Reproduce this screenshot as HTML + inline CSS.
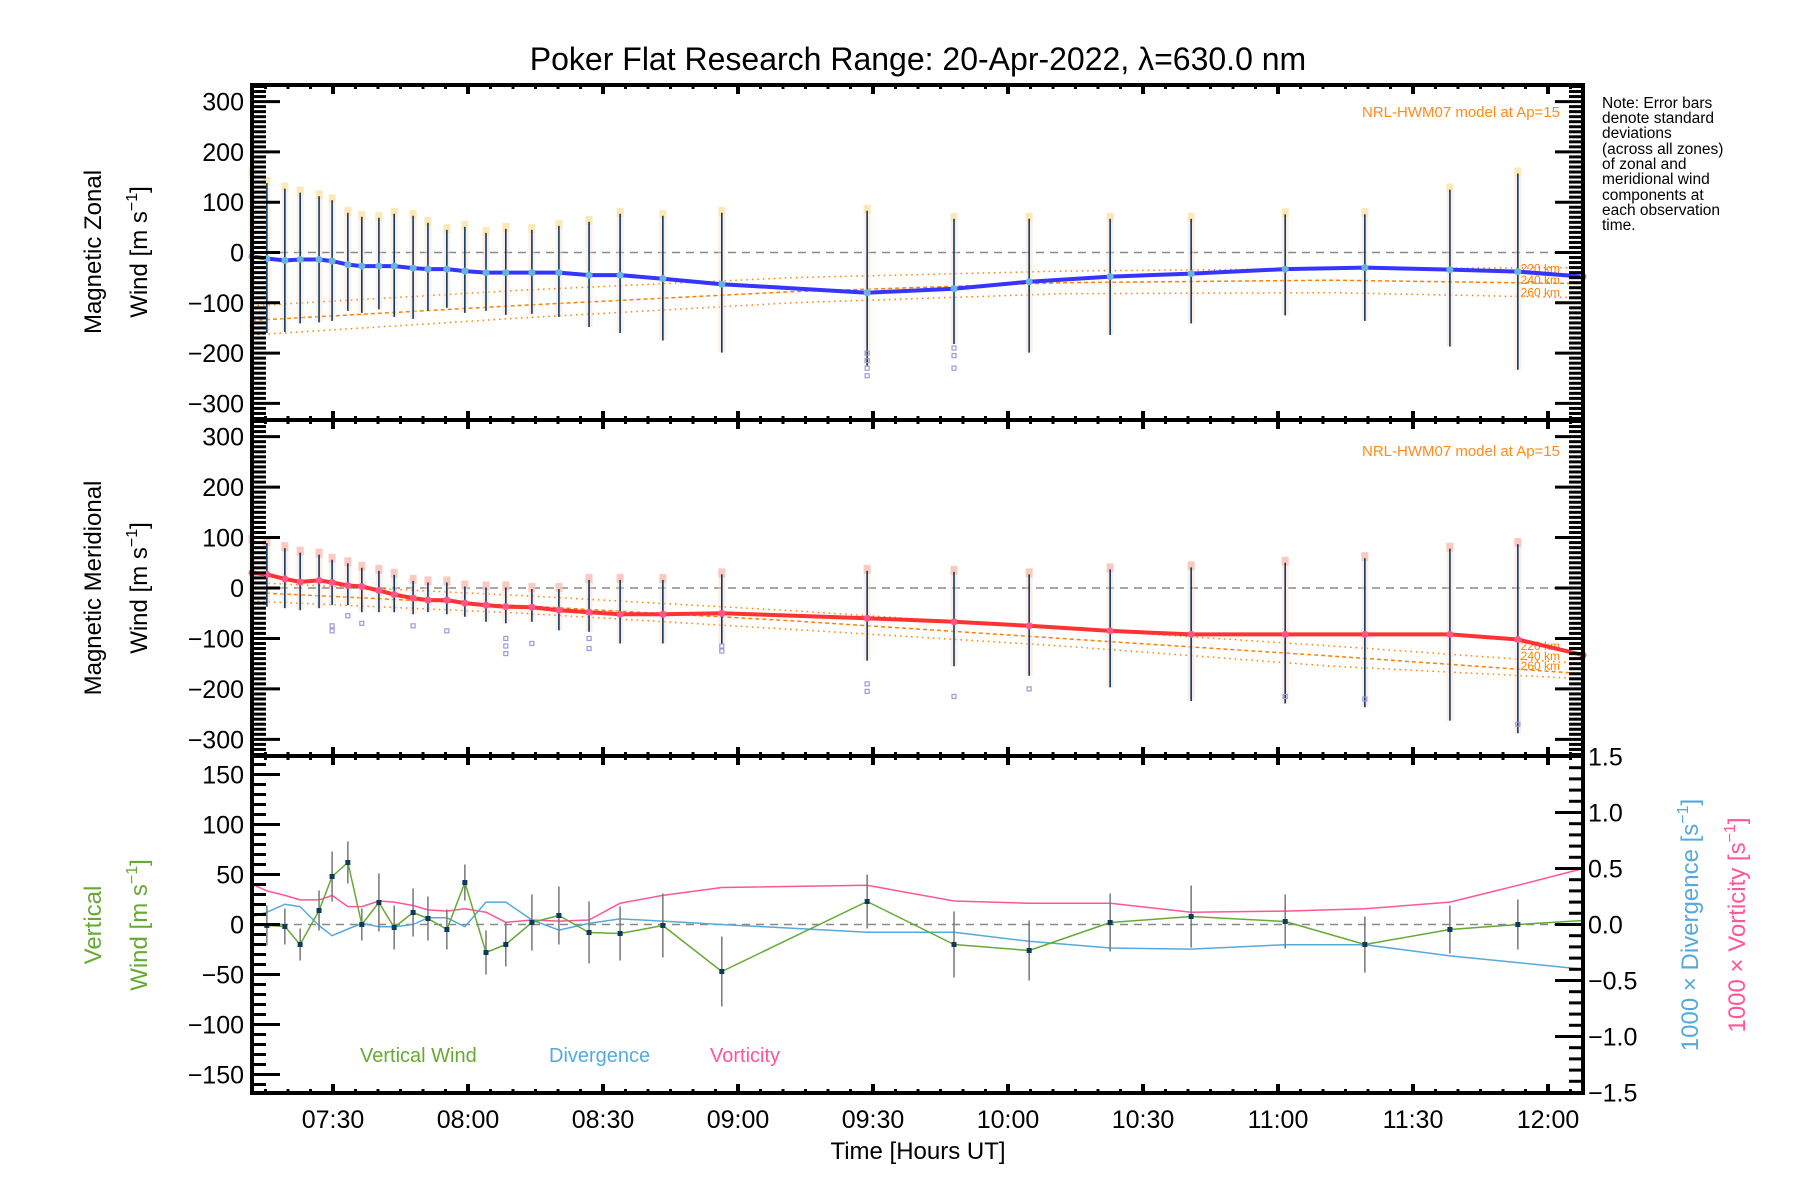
<!DOCTYPE html>
<html><head><meta charset="utf-8"><style>
html,body{margin:0;padding:0;background:#fff;}
svg{display:block;font-family:"Liberation Sans",sans-serif;}
</style></head><body>
<svg id="chart" width="1800" height="1200" viewBox="0 0 1800 1200" xmlns="http://www.w3.org/2000/svg">
<text x="918" y="70" font-size="32" text-anchor="middle">Poker Flat Research Range: 20-Apr-2022, λ=630.0 nm</text>
<g font-size="15.5" fill="#000">
<text x="1602" y="108">Note: Error bars</text><text x="1602" y="123">denote standard</text><text x="1602" y="138">deviations</text><text x="1602" y="154">(across all zones)</text><text x="1602" y="169">of zonal and</text><text x="1602" y="184">meridional wind</text><text x="1602" y="200">components at</text><text x="1602" y="215">each observation</text><text x="1602" y="230">time.</text>
</g>
<text x="1560" y="117" font-size="15" fill="#ff8c1a" text-anchor="end">NRL-HWM07 model at Ap=15</text>
<text x="1560" y="456" font-size="15" fill="#ff8c1a" text-anchor="end">NRL-HWM07 model at Ap=15</text>
<g font-size="24">
<text transform="translate(101,252) rotate(-90)" text-anchor="middle">Magnetic Zonal</text>
<text transform="translate(147,252) rotate(-90)" text-anchor="middle">Wind [m s<tspan dy="-10" font-size="16">−1</tspan><tspan dy="10">]</tspan></text>
<text transform="translate(101,588) rotate(-90)" text-anchor="middle">Magnetic Meridional</text>
<text transform="translate(147,588) rotate(-90)" text-anchor="middle">Wind [m s<tspan dy="-10" font-size="16">−1</tspan><tspan dy="10">]</tspan></text>
<text transform="translate(101,925) rotate(-90)" text-anchor="middle" fill="#66aa33">Vertical</text>
<text transform="translate(147,925) rotate(-90)" text-anchor="middle" fill="#66aa33">Wind [m s<tspan dy="-10" font-size="16">−1</tspan><tspan dy="10">]</tspan></text>
<text transform="translate(1698,925) rotate(-90)" text-anchor="middle" fill="#55aadd">1000 × Divergence [s<tspan dy="-10" font-size="16">−1</tspan><tspan dy="10">]</tspan></text>
<text transform="translate(1745,925) rotate(-90)" text-anchor="middle" fill="#ff5599">1000 × Vorticity [s<tspan dy="-10" font-size="16">−1</tspan><tspan dy="10">]</tspan></text>
<text x="918" y="1159" text-anchor="middle">Time [Hours UT]</text>
</g>
<g font-size="20">
<text x="360" y="1062" fill="#66aa33">Vertical Wind</text>
<text x="549" y="1062" fill="#55aadd">Divergence</text>
<text x="710" y="1062" fill="#ff5599">Vorticity</text>
</g>
<g id="plot"></g>
</svg>
<script>
// minutes after 07:00 UT
const times = [12,15.3,19.3,22.7,26.9,29.8,33.3,36.4,40.2,43.6,47.8,51.1,55.3,59.3,64,68.4,74.2,80.2,86.9,93.8,103.3,116.4,148.7,168,184.7,202.7,220.7,241.6,259.3,278.2,293.3,307.8];
const zonal = [-8,-12,-16,-14,-14,-17,-24,-27,-27,-27,-31,-33,-33,-37,-40,-40,-40,-40,-45,-45,-52,-63,-80,-72,-58,-48,-42,-33,-30,-34,-38,-48];
const zonalTop = [158,138,127,119,112,104,79,71,69,77,73,59,45,51,39,47,45,53,61,77,73,79,83,67,67,67,67,76,76,125,157,0];
const zonalBot = [-164,-160,-158,-141,-139,-136,-116,-120,-113,-128,-132,-116,-110,-120,-116,-124,-122,-128,-148,-160,-175,-199,-225,-182,-199,-164,-141,-125,-136,-187,-233,0];
const merid = [30,27,18,12,15,11,5,3,-5,-13,-20,-24,-24,-30,-34,-37,-38,-44,-48,-52,-52,-50,-60,-67,-75,-85,-92,-92,-92,-92,-102,-133];
const meridTop = [94,89,79,70,66,56,49,40,34,26,14,11,11,3,1,1,-2,-2,16,16,16,27,34,32,27,37,41,50,59,78,87,0];
const meridBot = [-44,-37,-40,-44,-40,-34,-34,-48,-48,-48,-52,-48,-52,-57,-67,-70,-67,-84,-87,-110,-110,-110,-144,-155,-174,-197,-224,-229,-236,-263,-288,0];
const vert = [-1,-1,-2,-20,14,48,62,0,22,-3,12,6,-5,42,-28,-20,2,9,-8,-9,-1,-47,23,-20,-26,2,8,3,-20,-5,0,4];
const vertErr = [0,20,18,16,20,25,21,16,29,22,24,22,20,18,22,22,28,29,31,27,32,35,27,33,30,29,31,27,28,24,25,0];
const diverg = [0.07,0.11,0.18,0.16,-0.01,-0.10,-0.04,0.01,-0.02,-0.02,0.0,0.06,0.06,-0.02,0.20,0.20,0.04,-0.05,0.01,0.05,0.03,0.0,-0.07,-0.07,-0.15,-0.21,-0.22,-0.18,-0.18,-0.28,-0.34,-0.40];
const vortic = [0.36,0.30,0.26,0.22,0.22,0.26,0.16,0.16,0.21,0.20,0.17,0.13,0.12,0.14,0.11,0.02,0.04,0.03,0.04,0.19,0.26,0.33,0.35,0.21,0.19,0.19,0.11,0.12,0.14,0.20,0.35,0.50];
const modelTimes = [12,72,132,192,252,308];
const zModel220 = [-106,-75,-50,-37,-32,-30];
const zModel240 = [-135,-105,-78,-60,-55,-62];
const zModel260 = [-164,-130,-100,-82,-80,-90];
const mModel220 = [11,-15,-45,-80,-115,-150];
const mModel240 = [-9,-35,-65,-100,-135,-170];
const mModel260 = [-26,-50,-82,-115,-155,-180];
const zOutT = [148.7,148.7,148.7,148.7,168,168,168];
const zOutV = [-200,-215,-230,-245,-190,-205,-230];
const mOutT = [29.8,29.8,33.3,36.4,47.8,55.3,68.4,68.4,68.4,74.2,86.9,86.9,116.4,116.4,148.7,148.7,168,184.7,241.6,259.3,293.3];
const mOutV = [-75,-85,-55,-70,-75,-85,-100,-115,-130,-110,-100,-120,-115,-125,-190,-205,-215,-200,-215,-220,-270];
const xTickLabels = ["07:30","08:00","08:30","09:00","09:30","10:00","10:30","11:00","11:30","12:00"];

const NS="http://www.w3.org/2000/svg";
const g=document.getElementById('plot');
const L=252,R=1583;
function X(m){return L+(m-12)*4.5;}
const panels=[{top:85,bot:420,r:333},{top:420,bot:756,r:333},{top:756,bot:1093,r:168.5}];
function Y(p,v){const P=panels[p];const c=(P.top+P.bot)/2;return c-v*(P.bot-P.top)/2/P.r;}
function YRt(v){return 924.5-v*112;}
function el(tag,a,parent){const e=document.createElementNS(NS,tag);for(const k in a)e.setAttribute(k,a[k]);(parent||g).appendChild(e);return e;}
function line(x1,y1,x2,y2,st,w,extra){return el('line',Object.assign({x1,y1,x2,y2,stroke:st,'stroke-width':w},extra||{}));}
function poly(xs,ys,st,w,extra){const pts=xs.map((x,i)=>x.toFixed(1)+','+ys[i].toFixed(1)).join(' ');return el('polyline',Object.assign({points:pts,fill:'none',stroke:st,'stroke-width':w,'stroke-linejoin':'round'},extra||{}));}

// zero lines
[0,1,2].forEach(p=>{const z=line(L,Y(p,0),R,Y(p,0),'#888',1.5,{'stroke-dasharray':'8,6'});

});

// model lines
function models(p,arrs,names){arrs.forEach((a,k)=>{const e=poly(modelTimes.map(X),a.map(v=>Y(p,v)),'#ff8000',1.5,{'stroke-dasharray':k==1?'4,3':'1.5,4'});

});}
models(0,[zModel220,zModel240,zModel260],['zonal-220km','zonal-240km','zonal-260km']);
models(1,[mModel220,mModel240,mModel260],['meridional-220km','meridional-240km','meridional-260km']);
[['220 km',zModel220,0],['240 km',zModel240,0],['260 km',zModel260,0],['220 km',mModel220,1],['240 km',mModel240,1],['260 km',mModel260,1]].forEach((d,i)=>{
const t=el('text',{x:1560,y:Y(d[2],d[1][d[1].length-2])+4,'font-size':12,fill:'#ff8000','text-anchor':'end'});
t.textContent=d[0];

});

// error bars with pastel columns
function bars(p,top,bot,capTop,name){times.forEach((t,i)=>{if(top[i]===0&&bot[i]===0)return;const x=X(t);
const r=el('rect',{x:x-3.5,y:Y(p,top[i]+10),width:7,height:Y(p,bot[i])-Y(p,top[i]+10),fill:capTop?'#fbd6cc':'#f9dccf',opacity:0.45});


const c=el('rect',{x:x-3.5,y:Y(p,top[i]+12),width:7,height:9,fill:capTop?'#f9c0b6':'#fbe6ad',opacity:0.8});


const b=line(x,Y(p,top[i]),x,Y(p,bot[i]),'#0d3b5e',1.6);

});}
bars(0,zonalTop,zonalBot,false,'zonal');
bars(1,meridTop,meridBot,true,'meridional');
function outl(p,ts,vs,name){ts.forEach((t,i)=>{const r=el('rect',{x:X(t)-2,y:Y(p,vs[i])-2,width:4,height:4,fill:'none',stroke:'#9999dd','stroke-width':1.2});

});}
outl(0,zOutT,zOutV,'zonal');outl(1,mOutT,mOutV,'meridional');

// main lines
const zl=poly(times.map(X),zonal.map(v=>Y(0,v)),'#3535ff',4);


times.forEach((t,i)=>{const c=el('circle',{cx:X(t),cy:Y(0,zonal[i]),r:3.5,fill:'#66b3dd'});

});
const ml=poly(times.map(X),merid.map(v=>Y(1,v)),'#ff3333',4);


times.forEach((t,i)=>{const c=el('circle',{cx:X(t),cy:Y(1,merid[i]),r:3.5,fill:'#ff5588'});

});

// panel 3
const vl=poly(times.map(X),vortic.map(YRt),'#ff5599',1.5);


const dl=poly(times.map(X),diverg.map(YRt),'#55aadd',1.5);


times.forEach((t,i)=>{if(!vertErr[i])return;const e=line(X(t),Y(2,vert[i]+vertErr[i]),X(t),Y(2,vert[i]-vertErr[i]),'#777',1.5);

});
const gl=poly(times.map(X),vert.map(v=>Y(2,v)),'#66aa33',1.5);


times.forEach((t,i)=>{if(!vertErr[i])return;const r=el('rect',{x:X(t)-2.5,y:Y(2,vert[i])-2.5,width:5,height:5,fill:'#0d3b5e'});

});

// axes frames & ticks
panels.forEach((P,p)=>{
const f=el('rect',{x:L,y:P.top,width:R-L,height:P.bot-P.top,fill:'none',stroke:'#000','stroke-width':4});


for(let m=15;m<=308;m+=5){const x=X(m);const maj=m%30==0;const len=maj?9:4;
line(x,P.top,x,P.top+len,'#000',maj?4:3);line(x,P.bot,x,P.bot-len,'#000',maj?4:3);}
const step=10,majStep=p<2?100:50;
for(let v=-Math.floor(P.r/step)*step;v<=P.r;v+=step){const y=Y(p,v);const maj=Math.abs(v%majStep)<1e-6;const len=maj?28:14;
line(L,y,L+len,y,'#000',3);
if(p<2)line(R,y,R-len,y,'#000',3);
if(maj){const t=el('text',{x:244,y:y+9,'font-size':25,'text-anchor':'end'});t.textContent=(v<0?'−':'')+Math.abs(v);

}}
});
for(let k=-15;k<=15;k++){const v=k/10;const y=YRt(v);const maj=k%5==0;line(R,y,R-(maj?28:14),y,'#000',3);
if(maj){const t=el('text',{x:1588,y:y+9,'font-size':25});t.textContent=(v<0?'−':'')+Math.abs(v).toFixed(1);

}}
xTickLabels.forEach((s,i)=>{const t=el('text',{x:X(30+30*i),y:1128,'font-size':25,'text-anchor':'middle'});t.textContent=s;

});
</script>
</body></html>
